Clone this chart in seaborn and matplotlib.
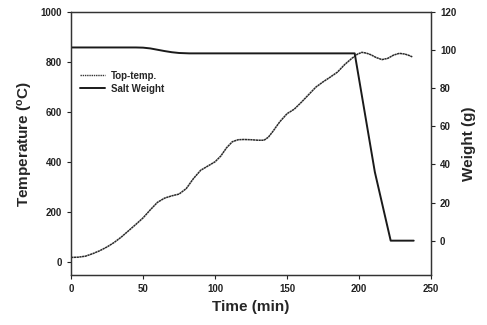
import numpy as np
import pandas as pd
import seaborn as sns
import matplotlib.pyplot as plt
from matplotlib.lines import Line2D

# --------------------------- DATA ---------------------------
time_temp = [0, 5, 10, 15, 20, 25, 30, 35, 40, 45, 50, 55, 60, 65, 70, 75, 80, 85, 90,
             95, 100, 104, 108, 112, 116, 120, 125, 130, 134, 137, 140, 145, 150, 155, 160,
             165, 170, 175, 180, 185, 190, 195, 199, 202, 205, 208, 212, 216, 220, 224,
             228, 232, 235, 237]
top_temp = [20, 21, 25, 35, 47, 62, 80, 102, 127, 152, 178, 210, 240, 257, 266, 273, 295,
            335, 368, 385, 402, 425, 458, 482, 490, 491, 490, 488, 488, 500, 522, 562, 594,
            612, 640, 670, 700, 721, 740, 760, 790, 815, 832, 839, 836, 830, 818, 810, 815,
            828, 835, 832, 826, 821]

time_weight = [0, 45, 50, 55, 60, 65, 70, 75, 82, 197, 211, 222, 238]
salt_weight = [101.4, 101.4, 101.3, 100.9, 100.2, 99.5, 98.9, 98.5, 98.3, 98.3, 36, 0, 0]

df_temp = pd.DataFrame({'time': time_temp, 'temp': top_temp})
df_weight = pd.DataFrame({'time': time_weight, 'weight': salt_weight})

# --------------------------- STYLE ---------------------------
sns.set_style("ticks")
plt.rcParams['font.family'] = ['Liberation Sans', 'DejaVu Sans']
plt.rcParams['font.weight'] = 'bold'

fig = plt.figure(figsize=(4.87, 3.25), dpi=100)
ax = fig.add_axes([0.146, 0.154, 0.739, 0.809])
ax2 = ax.twinx()

sns.lineplot(data=df_temp, x='time', y='temp', ax=ax, color='#2a2a2a',
             linewidth=1.1, linestyle=(0, (1.5, 0.3)))
sns.lineplot(data=df_weight, x='time', y='weight', ax=ax2, color='#1a1a1a',
             linewidth=1.4)

ax.set_xlim(0, 250)
ax.set_ylim(-50, 1000)
ax2.set_ylim(-18, 120)
ax.set_xticks(np.arange(0, 251, 50))
ax.set_yticks(np.arange(0, 1001, 200))
ax2.set_yticks(np.arange(0, 121, 20))

ax.set_xlabel('Time (min)', fontsize=11, fontweight='bold')
ax.set_ylabel(r'Temperature ($\mathregular{^{o}}$C)', fontsize=11, fontweight='bold')
ax2.set_ylabel('Weight (g)', fontsize=11, fontweight='bold')

for a in (ax, ax2):
    a.tick_params(labelsize=7, width=0.8, length=3, direction='out', colors='#222222')
    for s in a.spines.values():
        s.set_linewidth(0.9)
        s.set_color('#333333')
    for lbl in a.get_xticklabels() + a.get_yticklabels():
        lbl.set_fontweight('bold')

handles = [
    Line2D([], [], color='#333333', linewidth=1.0, linestyle=(0, (1, 0.6))),
    Line2D([], [], color='#1a1a1a', linewidth=1.4),
]
ax.legend(handles, ['Top-temp.', 'Salt Weight'], loc='upper left',
          bbox_to_anchor=(0.0, 0.81), frameon=False, fontsize=7,
          handlelength=2.6, handletextpad=0.6, labelspacing=0.3)

fig.savefig('out.png', dpi=100)
